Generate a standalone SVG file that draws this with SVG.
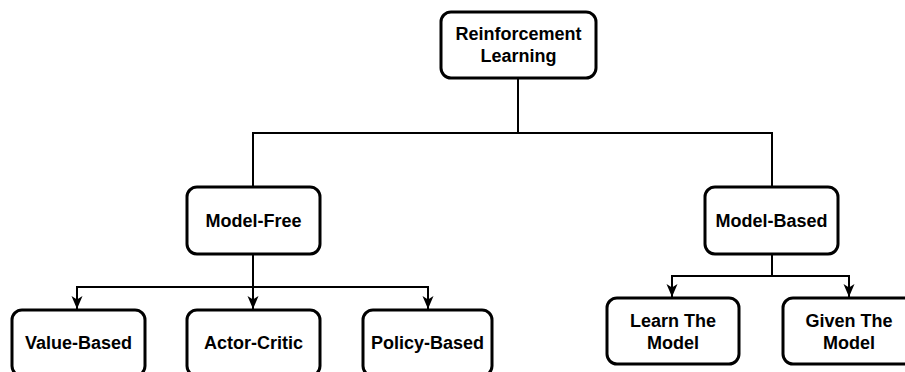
<svg xmlns="http://www.w3.org/2000/svg" width="905" height="372" viewBox="0 0 905 372">
<defs>
<style>
.box{fill:#fff;stroke:#000;stroke-width:3}
.lbl{font-family:"Liberation Sans",Arial,sans-serif;font-weight:bold;font-size:18px;fill:#000;text-anchor:middle}
.con{fill:none;stroke:#000;stroke-width:2}
</style>
<marker id="arr" markerUnits="userSpaceOnUse" markerWidth="14" markerHeight="14" viewBox="0 0 14 14" refX="13" refY="7" orient="auto">
<path d="M0,1.5 L13,7 L0,12.5 L3.5,7 z" fill="#000"/>
</marker>
</defs>
<rect width="905" height="372" fill="#fff"/>
<g id="connectors">
<path class="con" d="M518,78 V133 H253 V187"/>
<path class="con" d="M518,133 H772 V187"/>
<path class="con" d="M253,254 V287 H77 V309" marker-end="url(#arr)"/>
<path class="con" d="M253,287 V309" marker-end="url(#arr)"/>
<path class="con" d="M253,287 H428 V309" marker-end="url(#arr)"/>
<path class="con" d="M772,254 V276 H672 V297" marker-end="url(#arr)"/>
<path class="con" d="M772,276 H849 V297" marker-end="url(#arr)"/>
</g>
<g id="root">
<rect class="box" x="441" y="12" width="155" height="66" rx="10"/>
<text class="lbl" x="518.5" y="40">Reinforcement</text>
<text class="lbl" x="518.5" y="62">Learning</text>
</g>
<g id="model-free">
<rect class="box" x="187" y="187" width="133" height="67" rx="10"/>
<text class="lbl" x="253.5" y="227">Model-Free</text>
</g>
<g id="model-based">
<rect class="box" x="705" y="187" width="133" height="67" rx="10"/>
<text class="lbl" x="771.5" y="227">Model-Based</text>
</g>
<g id="value-based">
<rect class="box" x="12" y="310" width="133" height="66" rx="10"/>
<text class="lbl" x="78.5" y="349">Value-Based</text>
</g>
<g id="actor-critic">
<rect class="box" x="187" y="310" width="133" height="66" rx="10"/>
<text class="lbl" x="253.5" y="349">Actor-Critic</text>
</g>
<g id="policy-based">
<rect class="box" x="363" y="310" width="129" height="66" rx="10"/>
<text class="lbl" x="427.5" y="349">Policy-Based</text>
</g>
<g id="learn-model">
<rect class="box" x="607" y="298" width="132" height="66" rx="10"/>
<text class="lbl" x="673" y="327">Learn The</text>
<text class="lbl" x="673" y="349">Model</text>
</g>
<g id="given-model">
<rect class="box" x="783" y="298" width="132" height="66" rx="10"/>
<text class="lbl" x="849" y="327">Given The</text>
<text class="lbl" x="849" y="349">Model</text>
</g>
</svg>
